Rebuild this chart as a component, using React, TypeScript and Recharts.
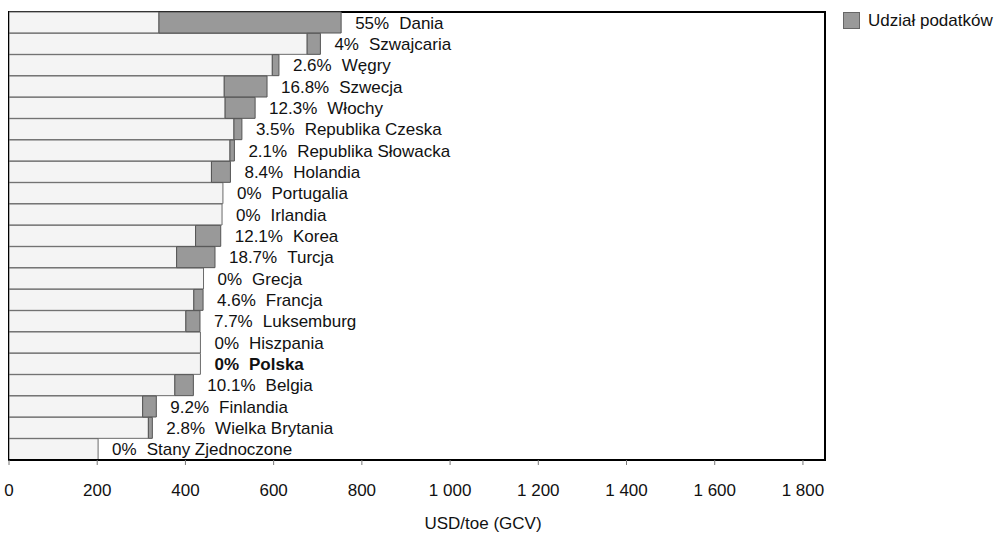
import React from 'react';
import { BarChart, Bar, XAxis, YAxis, LabelList, ReferenceArea, Legend } from 'recharts';

const countries = ['Dania', 'Szwajcaria', 'Węgry', 'Szwecja', 'Włochy', 'Republika Czeska', 'Republika Słowacka', 'Holandia', 'Portugalia', 'Irlandia', 'Korea', 'Turcja', 'Grecja', 'Francja', 'Luksemburg', 'Hiszpania', 'Polska', 'Belgia', 'Finlandia', 'Wielka Brytania', 'Stany Zjednoczone'];
const basePrice = [340, 676, 597, 488, 490, 510, 501, 459, 485, 483, 423, 380, 441, 419, 401, 434, 434, 376, 303, 316, 202];
const taxAmount = [413, 30, 15, 97, 68, 18, 10, 43, 0, 0, 57, 87, 0, 21, 32, 0, 0, 42, 31, 9, 0];
const taxShare = ['55', '4', '2.6', '16.8', '12.3', '3.5', '2.1', '8.4', '0', '0', '12.1', '18.7', '0', '4.6', '7.7', '0', '0', '10.1', '9.2', '2.8', '0'];
const highlighted = ['Polska'];
const xTicks = [0, 200, 400, 600, 800, 1000, 1200, 1400, 1600, 1800];
const xDomainMax = 1850;
const axisTitle = 'USD/toe (GCV)';
const legendLabel = 'Udział podatków';

const data = countries.map((name, i) => ({
  name,
  base: basePrice[i],
  tax: taxAmount[i],
  share: taxShare[i],
}));

const FONT = '"Liberation Sans", Arial, sans-serif';

const fmt = (v: number) => String(v).replace(/\B(?=(\d{3})+(?!\d))/g, ' ');

// Label attached to the base bar (always non-zero); the end of the stacked total
// is found from the base bar's own scale (pixels per unit = width / base value).
const renderBarLabel = (props: any) => {
  const { x, y, width, height, index } = props;
  const d = data[index];
  if (!d) return null;
  const pxPerUnit = Number(width) / d.base;
  const endX = Number(x) + pxPerUnit * (d.base + d.tax);
  const cy = Number(y) + Number(height) / 2;
  const bold = highlighted.includes(d.name);
  return (
    <text
      x={endX + 14}
      y={cy + 6}
      fontSize={17}
      fontFamily={FONT}
      fill="#111"
      fontWeight={bold ? 'bold' : 'normal'}
    >
      <tspan>{d.share + '%'}</tspan>
      <tspan dx={10}>{d.name}</tspan>
    </text>
  );
};

const renderLegend = () => (
  <div style={{ display: 'flex', alignItems: 'center', fontFamily: FONT, fontSize: 17, color: '#111', whiteSpace: 'nowrap' }}>
    <svg width={18} height={18} style={{ marginRight: 7 }}>
      <rect x={0.5} y={0.5} width={16} height={16} fill="#999999" stroke="#666" />
    </svg>
    <span>{legendLabel}</span>
  </div>
);

export default function App() {
  return (
    <div style={{ position: 'absolute', left: 0, top: 0, width: 998, height: 533, fontFamily: FONT, background: '#fff' }}>
      <BarChart
        width={998}
        height={533}
        data={data}
        layout="vertical"
        margin={{ top: 12, right: 173, bottom: 43, left: 9 }}
        barCategoryGap={0}
      >
        <XAxis
          type="number"
          domain={[0, xDomainMax]}
          ticks={xTicks}
          tickFormatter={fmt}
          interval={0}
          height={30}
          tickSize={5}
          tickMargin={19}
          axisLine={{ stroke: '#000', strokeWidth: 2 }}
          tickLine={{ stroke: '#777' }}
          tick={{ fontSize: 17, fill: '#111', fontFamily: FONT }}
          allowDataOverflow
        />
        <YAxis type="category" dataKey="name" hide width={0} />
        <Legend
          layout="horizontal"
          verticalAlign="middle"
          align="center"
          content={renderLegend}
          wrapperStyle={{ position: 'absolute', left: 843, top: 11, width: 160, height: 20 }}
        />
        <Bar dataKey="base" stackId="a" fill="#f4f4f4" stroke="#6a6a6a" strokeWidth={1} isAnimationActive={false} legendType="none">
          <LabelList dataKey="base" content={renderBarLabel} />
        </Bar>
        <Bar dataKey="tax" name={legendLabel} stackId="a" fill="#999999" stroke="#555" strokeWidth={1} isAnimationActive={false} />
        <ReferenceArea x1={0} x2={xDomainMax} fill="none" stroke="#000" strokeWidth={2} ifOverflow="visible" />
      </BarChart>
      <div style={{ position: 'absolute', left: 383, top: 514, width: 200, textAlign: 'center', fontSize: 17, color: '#111', fontFamily: FONT }}>
        {axisTitle}
      </div>
    </div>
  );
}
